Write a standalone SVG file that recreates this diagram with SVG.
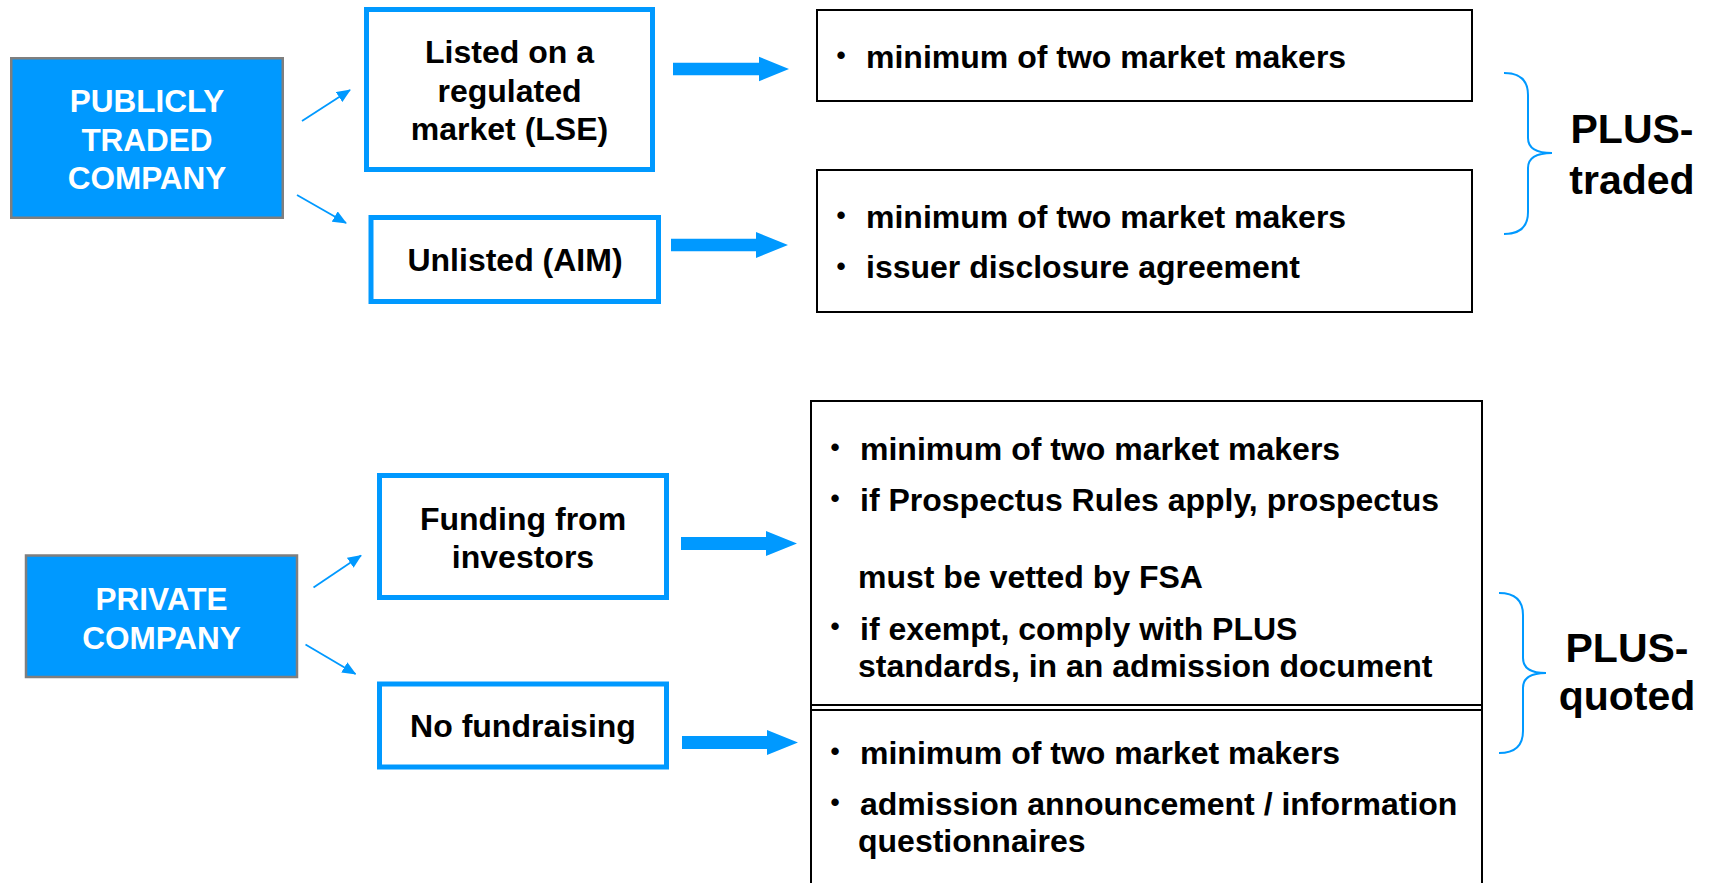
<svg xmlns="http://www.w3.org/2000/svg" width="1714" height="883" viewBox="0 0 1714 883">
<style>
text{font-family:"Liberation Sans",Arial,sans-serif;font-weight:bold;}
.lbl{font-size:32px;fill:#000;text-anchor:middle;}
.co{font-size:31.5px;fill:#fff;text-anchor:middle;}
.txt{font-size:32px;fill:#000;}
.bul{font-size:26px;fill:#000;text-anchor:middle;}
.plus{font-size:41px;fill:#000;text-anchor:middle;}
.bluebox{fill:#fff;stroke:#0099FF;stroke-width:5;}
.cobox{fill:#0099FF;stroke:#7F7F7F;stroke-width:2.5;}
.infobox{fill:#fff;stroke:#000;stroke-width:2;}
.fat{fill:#0099FF;}
.thin{stroke:#0099FF;stroke-width:1.8;fill:none;marker-end:url(#ah);}
.brace{stroke:#0099FF;stroke-width:2;fill:none;}
</style>
<defs>
<marker id="ah" markerUnits="userSpaceOnUse" markerWidth="14" markerHeight="12" refX="13" refY="6" orient="auto">
<path d="M0,0 L14,6 L0,12 Z" fill="#0099FF"/>
</marker>
</defs>
<rect width="1714" height="883" fill="#fff"/>

<g id="publicly-traded">
<rect class="cobox" x="11.25" y="58.25" width="271.5" height="159.5"/>
<text class="co" x="147" y="111.5">PUBLICLY</text>
<text class="co" x="147" y="150.5">TRADED</text>
<text class="co" x="147" y="189">COMPANY</text>
</g>

<g id="listed">
<rect class="bluebox" x="366.5" y="9.5" width="286" height="160"/>
<text class="lbl" x="509.5" y="63">Listed on a</text>
<text class="lbl" x="509.5" y="101.5">regulated</text>
<text class="lbl" x="509.5" y="140">market (LSE)</text>
</g>

<g id="unlisted">
<rect class="bluebox" x="371" y="217.5" width="287.5" height="84"/>
<text class="lbl" x="515" y="271">Unlisted (AIM)</text>
</g>

<g id="req-listed">
<rect class="infobox" x="817" y="10" width="655" height="91"/>
<text class="bul" x="841" y="63.5">•</text>
<text class="txt" x="866" y="68">minimum of two market makers</text>
</g>

<g id="req-unlisted">
<rect class="infobox" x="817" y="170" width="655" height="142"/>
<text class="bul" x="841" y="223.5">•</text>
<text class="txt" x="866" y="228">minimum of two market makers</text>
<text class="bul" x="841" y="274.5">•</text>
<text class="txt" x="866" y="278">issuer disclosure agreement</text>
</g>

<g id="plus-traded">
<path class="brace" d="M1504,73 Q1528,73 1528,95 L1528,138 Q1528,153 1552,153 Q1528,153 1528,168 L1528,212 Q1528,234 1504,234"/>
<text class="plus" x="1632" y="142.5">PLUS-</text>
<text class="plus" x="1632" y="193.5">traded</text>
</g>

<g id="private">
<rect class="cobox" x="26" y="555.5" width="271" height="121.5"/>
<text class="co" x="161.5" y="610">PRIVATE</text>
<text class="co" x="161.5" y="648.5">COMPANY</text>
</g>

<g id="funding">
<rect class="bluebox" x="379.5" y="475.5" width="287" height="122"/>
<text class="lbl" x="523" y="530">Funding from</text>
<text class="lbl" x="523" y="568">investors</text>
</g>

<g id="no-fundraising">
<rect class="bluebox" x="379.5" y="684" width="287" height="83"/>
<text class="lbl" x="523" y="736.5">No fundraising</text>
</g>

<g id="req-private">
<rect class="infobox" x="811" y="401" width="671" height="500"/>
<line x1="811" y1="705" x2="1482" y2="705" stroke="#000" stroke-width="2"/>
<line x1="811" y1="710" x2="1482" y2="710" stroke="#000" stroke-width="2"/>
<text class="bul" x="835" y="455.5">•</text>
<text class="txt" x="860" y="460">minimum of two market makers</text>
<text class="bul" x="835" y="506.5">•</text>
<text class="txt" x="860" y="511">if Prospectus Rules apply, prospectus</text>
<text class="txt" x="858" y="588">must be vetted by FSA</text>
<text class="bul" x="835" y="634.5">•</text>
<text class="txt" x="860" y="640">if exempt, comply with PLUS</text>
<text class="txt" x="858" y="677">standards, in an admission document</text>
<text class="bul" x="835" y="759.5">•</text>
<text class="txt" x="860" y="764">minimum of two market makers</text>
<text class="bul" x="835" y="810.5">•</text>
<text class="txt" x="860" y="815">admission announcement / information</text>
<text class="txt" x="858" y="852">questionnaires</text>
</g>

<g id="plus-quoted">
<path class="brace" d="M1499,593 Q1523,593 1523,615 L1523,658 Q1523,673 1546,673 Q1523,673 1523,688 L1523,731 Q1523,753 1499,753"/>
<text class="plus" x="1627" y="662">PLUS-</text>
<text class="plus" x="1627" y="710">quoted</text>
</g>

<g id="connectors">
<line class="thin" x1="302" y1="121" x2="350" y2="90"/>
<line class="thin" x1="297" y1="195" x2="346" y2="223"/>
<line class="thin" x1="313.5" y1="587.5" x2="361" y2="555.5"/>
<line class="thin" x1="305.5" y1="644.5" x2="355.5" y2="674"/>
<path class="fat" d="M673,62.7 L759,62.7 L759,56.7 L789,69 L759,81.3 L759,75.3 L673,75.3 Z"/>
<path class="fat" d="M671,238.7 L756,238.7 L756,232 L788,245 L756,258 L756,251.3 L671,251.3 Z"/>
<path class="fat" d="M681,537 L766,537 L766,531 L797,543.5 L766,556 L766,550 L681,550 Z"/>
<path class="fat" d="M682,736 L767,736 L767,730 L798,742.5 L767,755 L767,749 L682,749 Z"/>
</g>
</svg>
